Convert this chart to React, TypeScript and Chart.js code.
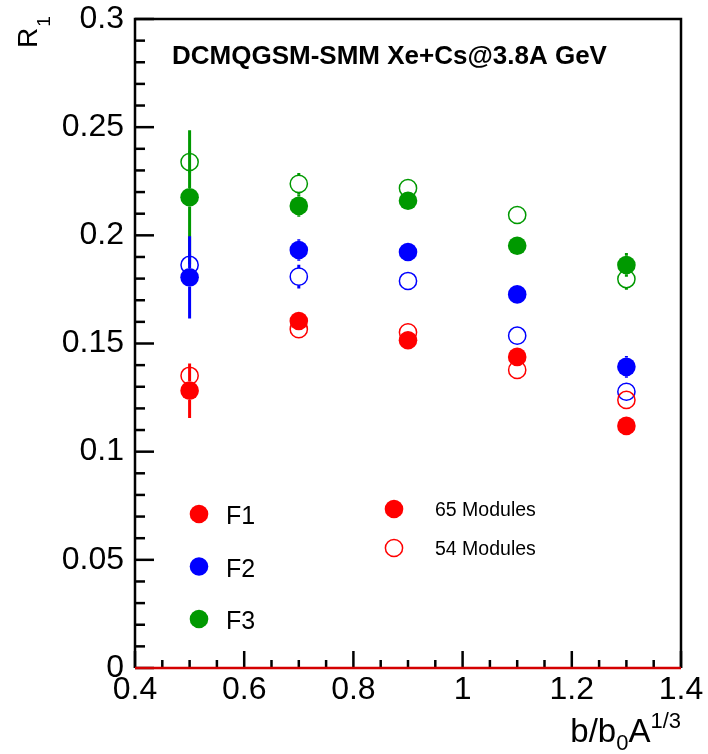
import React, { useEffect, useRef } from "react";
import { Chart, registerables } from "chart.js";

Chart.register(...registerables);

// Reduced impact parameter values
const bValues = [0.5, 0.7, 0.9, 1.1, 1.3];

// R1 for the 65-module configuration
const f1Modules65 = [0.1282, 0.1604, 0.1515, 0.1438, 0.1119];
const f2Modules65 = [0.1806, 0.1932, 0.1923, 0.1727, 0.1392];
const f3Modules65 = [0.2176, 0.2136, 0.216, 0.1952, 0.1863];

// R1 for the 54-module configuration
const f1Modules54 = [0.1351, 0.1566, 0.1552, 0.1378, 0.1239];
const f2Modules54 = [0.1863, 0.1809, 0.1789, 0.1536, 0.1277];
const f3Modules54 = [0.2339, 0.2238, 0.2218, 0.2094, 0.1798];

// Statistical uncertainties (symmetric)
const f1Err65 = [0.0126, 0.003, 0.003, 0.003, 0.003];
const f2Err65 = [0.019, 0.005, 0.003, 0.003, 0.005];
const f3Err65 = [0.031, 0.005, 0.003, 0.003, 0.0055];
const f1Err54 = [0.004, 0.003, 0.003, 0.003, 0.003];
const f2Err54 = [0.005, 0.0055, 0.003, 0.003, 0.003];
const f3Err54 = [0.005, 0.005, 0.003, 0.003, 0.005];

const xTickLabels = ["0.4", "0.6", "0.8", "1", "1.2", "1.4"];
const yTickLabels = ["0", "0.05", "0.1", "0.15", "0.2", "0.25", "0.3"];

const titleText = "DCMQGSM-SMM Xe+Cs@3.8A GeV";
const fractionNames = ["F1", "F2", "F3"];
const moduleNames = ["65 Modules", "54 Modules"];

const RED = "#ff0000";
const BLUE = "#0000ff";
const GREEN = "#009900";
const FONT = "'Liberation Sans', Arial, Helvetica, sans-serif";

const fractionColors = [RED, BLUE, GREEN];
const FILLED_R = 9.3;
const OPEN_R = 8.6;

function makeSet(label: string, values: number[], errs: number[], color: string, filled: boolean) {
  return {
    label,
    data: bValues.map((x, i) => ({ x, y: values[i] })),
    errors: errs,
    backgroundColor: filled ? color : "rgba(0,0,0,0)",
    borderColor: color,
    borderWidth: filled ? 0 : 1.5,
    pointRadius: filled ? FILLED_R : OPEN_R,
    pointHoverRadius: filled ? FILLED_R : OPEN_R,
    showLine: false,
  };
}

// vertical error bars, drawn outside the marker only
const errorBarPlugin = {
  id: "errorBars",
  beforeDatasetsDraw(chart: any) {
    const ctx = chart.ctx;
    const xs = chart.scales.x;
    const ys = chart.scales.y;
    ctx.save();
    ctx.lineWidth = 3;
    ctx.lineCap = "butt";
    const order = [2, 1, 0, 5, 4, 3];
    for (const di of order) {
      const ds = chart.data.datasets[di] as any;
      const r = ds.pointRadius;
      ctx.strokeStyle = ds.borderColor;
      ds.data.forEach((p: any, i: number) => {
        const e = ds.errors[i];
        const px = xs.getPixelForValue(p.x);
        const pc = ys.getPixelForValue(p.y);
        const pTop = ys.getPixelForValue(p.y + e);
        const pBot = ys.getPixelForValue(p.y - e);
        ctx.beginPath();
        if (pc - pTop > r) {
          ctx.moveTo(px, pTop);
          ctx.lineTo(px, pc - r);
        }
        if (pBot - pc > r) {
          ctx.moveTo(px, pc + r);
          ctx.lineTo(px, pBot);
        }
        ctx.stroke();
      });
    }
    ctx.restore();
  },
};

const framePlugin = {
  id: "frame",
  afterDraw(chart: any) {
    const ctx = chart.ctx;
    const { left, right, top, bottom } = chart.chartArea;
    const xs = chart.scales.x;
    const ys = chart.scales.y;
    ctx.save();
    ctx.lineCap = "butt";

    // ticks on the left axis (inward)
    ctx.strokeStyle = "#000";
    ctx.lineWidth = 2.5;
    for (let k = 0; k <= 30; k++) {
      const v = k * 0.01;
      const py = ys.getPixelForValue(v);
      const len = k % 5 === 0 ? 19 : 10;
      ctx.beginPath();
      ctx.moveTo(left, py);
      ctx.lineTo(left + len, py);
      ctx.stroke();
    }
    // ticks on the bottom axis (inward)
    for (let k = 0; k <= 20; k++) {
      const v = 0.4 + k * 0.05;
      const px = xs.getPixelForValue(v);
      const len = k % 4 === 0 ? 17 : 8;
      ctx.beginPath();
      ctx.moveTo(px, bottom);
      ctx.lineTo(px, bottom - len);
      ctx.stroke();
    }

    // frame
    ctx.lineWidth = 2.5;
    ctx.beginPath();
    ctx.moveTo(left, bottom);
    ctx.lineTo(left, top);
    ctx.lineTo(right, top);
    ctx.lineTo(right, bottom);
    ctx.stroke();

    // zero line
    ctx.strokeStyle = "#d40000";
    ctx.lineWidth = 2.5;
    ctx.beginPath();
    ctx.moveTo(left, ys.getPixelForValue(0));
    ctx.lineTo(right, ys.getPixelForValue(0));
    ctx.stroke();

    // title
    ctx.fillStyle = "#000";
    ctx.font = `bold 26px ${FONT}`;
    ctx.textAlign = "left";
    ctx.textBaseline = "alphabetic";
    ctx.fillText(titleText, 172, 64);

    // legend: fractions
    fractionNames.forEach((name, i) => {
      const cy = 514 + i * 52.5;
      ctx.fillStyle = fractionColors[i];
      ctx.beginPath();
      ctx.arc(199, cy, FILLED_R, 0, Math.PI * 2);
      ctx.fill();
      ctx.fillStyle = "#000";
      ctx.font = `25px ${FONT}`;
      ctx.fillText(name, 226, cy + 10);
    });

    // legend: module configurations
    ctx.fillStyle = RED;
    ctx.beginPath();
    ctx.arc(394, 509, FILLED_R, 0, Math.PI * 2);
    ctx.fill();
    ctx.strokeStyle = RED;
    ctx.lineWidth = 1.5;
    ctx.beginPath();
    ctx.arc(394, 548, OPEN_R, 0, Math.PI * 2);
    ctx.stroke();
    ctx.fillStyle = "#000";
    ctx.font = `19.5px ${FONT}`;
    ctx.fillText(moduleNames[0], 435, 516);
    ctx.fillText(moduleNames[1], 435, 555);

    // x-axis title: b/b0A^{1/3}, right-aligned with the axis end
    const big = `33px ${FONT}`;
    const small = `22px ${FONT}`;
    const parts = [
      { t: "b/b", f: big, dy: 0 },
      { t: "0", f: small, dy: 8 },
      { t: "A", f: big, dy: 0 },
      { t: "1/3", f: small, dy: -14 },
    ];
    let total = 0;
    parts.forEach((p) => {
      ctx.font = p.f;
      total += ctx.measureText(p.t).width;
    });
    let x0 = right - total;
    const base = 742;
    parts.forEach((p) => {
      ctx.font = p.f;
      ctx.fillText(p.t, x0, base + p.dy);
      x0 += ctx.measureText(p.t).width;
    });

    // y-axis title: R_1, rotated
    ctx.translate(37, 48);
    ctx.rotate(-Math.PI / 2);
    ctx.font = `28px ${FONT}`;
    ctx.fillText("R", 0, 0);
    const rw = ctx.measureText("R").width;
    ctx.font = `19px ${FONT}`;
    ctx.fillText("1", rw + 1, 13);

    ctx.restore();
  },
};

export default function App() {
  const canvasRef = useRef<HTMLCanvasElement | null>(null);

  useEffect(() => {
    const canvas = canvasRef.current;
    if (!canvas) return;
    const chart = new Chart(canvas, {
      type: "scatter",
      data: {
        datasets: [
          makeSet("F1 65", f1Modules65, f1Err65, RED, true),
          makeSet("F2 65", f2Modules65, f2Err65, BLUE, true),
          makeSet("F3 65", f3Modules65, f3Err65, GREEN, true),
          makeSet("F1 54", f1Modules54, f1Err54, RED, false),
          makeSet("F2 54", f2Modules54, f2Err54, BLUE, false),
          makeSet("F3 54", f3Modules54, f3Err54, GREEN, false),
        ] as any,
      },
      options: {
        animation: false,
        responsive: false,
        devicePixelRatio: 1,
        layout: { padding: { top: 19, right: 27, left: 0, bottom: 0 } },
        plugins: {
          legend: { display: false },
          tooltip: { enabled: false },
        },
        events: [],
        scales: {
          x: {
            type: "linear",
            min: 0.4,
            max: 1.4,
            afterBuildTicks: (scale: any) => {
              scale.ticks = xTickLabels.map((_, i) => ({ value: 0.4 + i * 0.2 }));
            },
            ticks: {
              color: "#000",
              padding: 6,
              maxRotation: 0,
              autoSkip: false,
              font: { family: FONT, size: 32, lineHeight: 1 },
              callback: (_v: any, i: number) => xTickLabels[i],
            },
            grid: { display: false, drawTicks: false },
            border: { display: false },
            afterFit: (scale: any) => {
              scale.height = 86;
              scale.paddingLeft = 0;
              scale.paddingRight = 0;
            },
          },
          y: {
            type: "linear",
            min: 0,
            max: 0.3,
            afterBuildTicks: (scale: any) => {
              scale.ticks = yTickLabels.map((_, i) => ({ value: i * 0.05 }));
            },
            ticks: {
              color: "#000",
              padding: 11,
              autoSkip: false,
              font: { family: FONT, size: 32, lineHeight: 1 },
              callback: (_v: any, i: number) => yTickLabels[i],
            },
            grid: { display: false, drawTicks: false },
            border: { display: false },
            afterFit: (scale: any) => {
              scale.width = 135;
              scale.paddingTop = 0;
              scale.paddingBottom = 0;
            },
          },
        },
      } as any,
      plugins: [errorBarPlugin, framePlugin],
    });
    return () => chart.destroy();
  }, []);

  return (
    <div style={{ position: "fixed", left: 0, top: 0, width: 708, height: 754, background: "#fff" }}>
      <canvas ref={canvasRef} width={708} height={754} style={{ width: 708, height: 754 }} />
    </div>
  );
}
